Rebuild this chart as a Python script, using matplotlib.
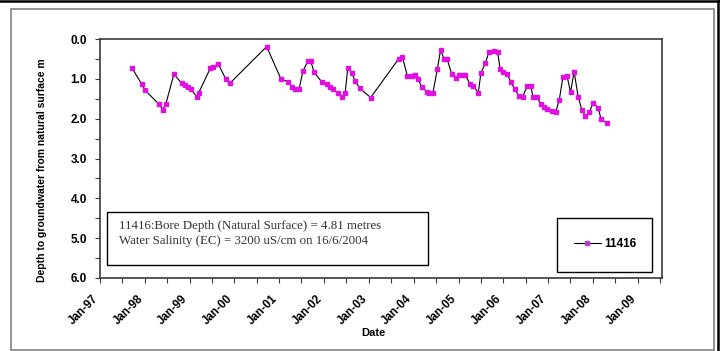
import numpy as np
import pandas as pd
import matplotlib
matplotlib.use("Agg")
import matplotlib.pyplot as plt
import matplotlib.dates as mdates
import matplotlib.transforms as mtransforms
from matplotlib.patches import Rectangle
from matplotlib.lines import Line2D

# bore 11416 readings: decimal year of reading, depth to water (m)
years = [1997.72, 1997.93, 1998.00, 1998.32, 1998.40, 1998.47, 1998.65, 1998.82,
         1998.90, 1998.97, 1999.03, 1999.16, 1999.20, 1999.46, 1999.52, 1999.64,
         1999.81, 1999.90, 2000.72, 2001.04, 2001.20, 2001.28, 2001.35, 2001.44,
         2001.53, 2001.64, 2001.70, 2001.78, 2001.95, 2002.06, 2002.13, 2002.21,
         2002.30, 2002.39, 2002.47, 2002.53, 2002.62, 2002.69, 2002.80, 2003.04,
         2003.67, 2003.75, 2003.86, 2003.96, 2004.03, 2004.10, 2004.18, 2004.29,
         2004.35, 2004.43, 2004.53, 2004.60, 2004.68, 2004.75, 2004.85, 2004.94,
         2005.02, 2005.09, 2005.15, 2005.26, 2005.33, 2005.44, 2005.50, 2005.60,
         2005.68, 2005.78, 2005.87, 2005.93, 2006.00, 2006.09, 2006.17, 2006.26,
         2006.34, 2006.43, 2006.53, 2006.61, 2006.66, 2006.75, 2006.83, 2006.91,
         2006.98, 2007.08, 2007.17, 2007.25, 2007.33, 2007.42, 2007.50, 2007.58,
         2007.67, 2007.75, 2007.83, 2007.92, 2008.01, 2008.12, 2008.18, 2008.32]
depth = [0.74, 1.13, 1.28, 1.64, 1.77, 1.63, 0.88, 1.11,
         1.16, 1.21, 1.26, 1.45, 1.36, 0.74, 0.70, 0.63,
         1.01, 1.11, 0.19, 1.01, 1.07, 1.21, 1.26, 1.26,
         0.80, 0.55, 0.55, 0.84, 1.08, 1.14, 1.20, 1.26,
         1.36, 1.45, 1.36, 0.72, 0.85, 1.05, 1.24, 1.47,
         0.49, 0.46, 0.93, 0.92, 0.90, 1.01, 1.20, 1.32,
         1.35, 1.35, 0.75, 0.28, 0.50, 0.51, 0.88, 0.97,
         0.90, 0.90, 0.90, 1.14, 1.18, 1.35, 0.85, 0.60,
         0.32, 0.29, 0.32, 0.76, 0.84, 0.89, 1.09, 1.26,
         1.43, 1.45, 1.19, 1.17, 1.45, 1.46, 1.62, 1.70,
         1.76, 1.80, 1.83, 1.52, 0.95, 0.92, 1.34, 0.82,
         1.45, 1.77, 1.93, 1.83, 1.60, 1.73, 2.01, 2.12]

bore_id = "11416"
info_lines = ["11416:Bore Depth (Natural Surface) = 4.81 metres",
              "Water Salinity (EC) = 3200 uS/cm on 16/6/2004"]


def to_date(y):
    yr = int(y)
    return pd.Timestamp(yr, 1, 1) + pd.to_timedelta((y - yr) * 365.25, unit="D")


dates = [to_date(y) for y in years]

W, H = 720, 351
fig = plt.figure(figsize=(W / 100, H / 100), dpi=100)
fig.patch.set_facecolor("white")

# outer frames
fig.add_artist(Rectangle((11 / W, 1 - 350 / H), 703 / W, 341 / H, transform=fig.transFigure,
                         fill=False, edgecolor="#8a8a8a", lw=1.3))
fig.add_artist(Line2D([0, 1], [1 - 1 / H, 1 - 1 / H], transform=fig.transFigure, color="black", lw=1.8))
fig.add_artist(Line2D([718 / W, 718 / W], [0, 1], transform=fig.transFigure, color="black", lw=1.8))

ax = fig.add_axes([100 / W, 1 - 278 / H, 562 / W, 239 / H])
ax.plot(dates, depth, color="black", lw=0.8, marker="s", markersize=3.4,
        markerfacecolor="#e010e0", markeredgecolor="#e010e0", label=bore_id)

ax.set_ylim(6, 0)
ax.set_yticks(np.arange(0, 7, 1.0))
ax.set_yticks(np.arange(0.5, 6, 1.0), minor=True)
ax.set_yticklabels([f"{v:.1f}" for v in np.arange(0, 7, 1.0)])

ax.set_xlim(pd.Timestamp("1997-01-01"), pd.Timestamp("2009-07-17"))
ax.xaxis.set_major_locator(mdates.YearLocator())
ax.xaxis.set_minor_locator(mdates.MonthLocator(bymonth=[7]))
ax.xaxis.set_major_formatter(mdates.DateFormatter("%b-%y"))

for s in ax.spines.values():
    s.set_color("#3a3a3a")
    s.set_linewidth(1.2)
ax.tick_params(which="both", direction="out", length=3.5, width=0.8, color="#3a3a3a")
ax.tick_params(axis="y", labelsize=8.5, pad=6)
ax.tick_params(axis="x", labelsize=8.3, pad=7)
shift = mtransforms.ScaledTranslation(-0.08, 0, fig.dpi_scale_trans)
for lab in ax.get_yticklabels() + ax.get_xticklabels():
    lab.set_fontweight("bold")
    lab.set_family("Liberation Sans")
for lab in ax.get_xticklabels():
    lab.set_rotation(45)
    lab.set_ha("right")
    lab.set_rotation_mode("anchor")
    lab.set_transform(lab.get_transform() + shift)

fig.text(42 / W, 1 - 170 / H, "Depth to groundwater from natural surface m", rotation=90,
         ha="center", va="center", fontsize=7.5, fontweight="bold", family="Liberation Sans")
fig.text(373 / W, 1 - 333 / H, "Date", ha="center", va="center", fontsize=8,
         fontweight="bold", family="Liberation Sans")

# info box
ax.add_patch(Rectangle((107 / W, 1 - 265 / H), 321 / W, 53 / H, transform=fig.transFigure,
                       facecolor="white", edgecolor="black", lw=1.0, zorder=5, clip_on=False))
ax.text(119 / W, 1 - 226 / H, info_lines[0], transform=fig.transFigure, ha="left", va="center",
        fontsize=9.3, family="Liberation Serif", color="#333333", zorder=6)
ax.text(119 / W, 1 - 241 / H, info_lines[1], transform=fig.transFigure, ha="left", va="center",
        fontsize=9.3, family="Liberation Serif", color="#333333", zorder=6)

# legend box
ax.add_patch(Rectangle((557 / W, 1 - 272 / H), 95 / W, 54 / H, transform=fig.transFigure,
                       facecolor="white", edgecolor="black", lw=1.0, zorder=5, clip_on=False))
leg = ax.legend(loc="center", bbox_to_anchor=(605 / W, 1 - 244 / H), bbox_transform=fig.transFigure,
                frameon=False, handlelength=2.3, handletextpad=0.25,
                prop={"weight": "bold", "size": 8.5, "family": "Liberation Sans"})
leg.set_zorder(7)
leg.get_lines()[0].set_markersize(2.8)
leg.get_lines()[0].set_markerfacecolor("#b040c8")
leg.get_lines()[0].set_markeredgecolor("#b040c8")

fig.savefig("out.png", dpi=100)
